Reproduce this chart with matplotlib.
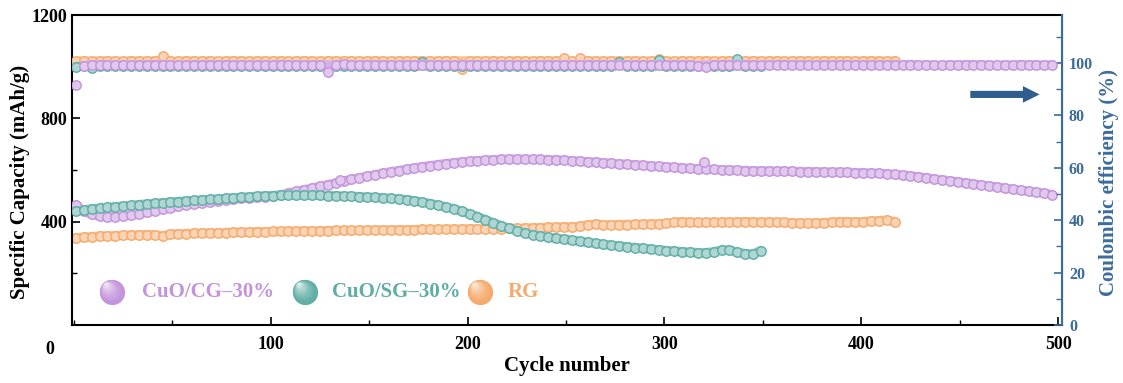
import numpy as np
import matplotlib
matplotlib.use("Agg")
import matplotlib.pyplot as plt
from matplotlib.colors import to_rgb

# =========================
# DATA (one value every 4 cycles)
# =========================
STEP = 4

cap_cg = [
    465, 440, 428, 422, 420, 420, 422, 425, 430, 436,
    442, 448, 454, 460, 465, 470, 474, 478, 481, 484,
    487, 490, 492, 494, 497, 500, 504, 510, 517, 524,
    530, 537, 543, 550, 557, 564, 570, 576, 582, 588,
    593, 598, 603, 608, 613, 617, 621, 625, 628, 631,
    634, 636, 638, 640, 641, 642, 642, 642, 641, 641,
    640, 639, 638, 636, 634, 632, 630, 628, 626, 624,
    622, 620, 618, 616, 614, 612, 610, 608, 606, 605,
    604, 602, 601, 600, 599, 598, 597, 597, 596, 596,
    595, 595, 594, 594, 593, 593, 592, 592, 591, 590,
    589, 588, 587, 585, 583, 580, 577, 574, 570, 566,
    562, 558, 554, 550, 546, 542, 538, 534, 530, 526,
    522, 518, 514, 510, 505,
]
cap_sg = [
    440, 445, 450, 452, 455, 458, 460, 463, 466, 468,
    471, 473, 476, 478, 480, 482, 484, 486, 488, 490,
    492, 494, 496, 498, 500, 501, 502, 503, 503, 503,
    503, 502, 501, 500, 499, 498, 497, 495, 494, 492,
    490, 488, 485, 481, 476, 470, 464, 457, 450, 440,
    430, 420, 408, 396, 385, 374, 365, 357, 350, 345,
    340, 336, 332, 328, 324, 320, 316, 312, 309, 306,
    303, 300, 297, 294, 291, 288, 286, 284, 282, 280,
    280, 283, 290, 290, 282, 276, 275, 288,
]
cap_rg = [
    338, 340, 342, 344, 345, 346, 347, 348, 349, 350,
    350, 345, 352, 353, 354, 355, 356, 357, 357, 358,
    359, 359, 360, 361, 361, 362, 362, 363, 363, 364,
    364, 365, 365, 366, 366, 366, 367, 367, 368, 368,
    368, 369, 369, 369, 370, 370, 370, 371, 371, 371,
    372, 372, 372, 373, 373, 374, 374, 375, 376, 377,
    378, 379, 380, 380, 382, 388, 390, 388, 388, 389,
    389, 390, 390, 391, 392, 393, 398, 400, 398, 397,
    397, 398, 398, 398, 399, 400, 399, 398, 399, 398,
    397, 396, 395, 394, 395, 396, 398, 400, 400, 399,
    400, 402, 404, 406, 400,
]

ce_cg = [
    91.5, 99.0, 99.3, 99.2, 99.4, 99.2, 99.3, 99.1, 99.3, 99.2,
    99.4, 99.2, 99.3, 99.2, 99.1, 99.3, 99.2, 99.4, 99.2, 99.3,
    99.2, 99.3, 99.1, 99.2, 99.3, 99.2, 99.4, 99.2, 99.3, 99.2,
    99.1, 99.3, 96.5, 99.2, 99.6, 99.3, 99.2, 99.4, 99.2, 99.3,
    99.2, 99.1, 99.3, 99.2, 99.4, 99.2, 99.3, 99.2, 99.1, 99.3,
    99.2, 99.4, 99.2, 99.3, 99.2, 99.3, 99.1, 99.2, 99.3, 99.2,
    99.4, 99.2, 99.3, 99.2, 99.1, 99.3, 99.2, 99.4, 99.2, 99.3,
    99.2, 99.3, 99.1, 99.2, 99.3, 99.2, 99.4, 99.2, 99.3, 99.0,
    98.6, 99.3, 99.2, 99.4, 99.2, 99.3, 99.2, 99.1, 99.3, 99.2,
    99.4, 99.2, 99.3, 99.2, 99.1, 99.3, 99.2, 99.4, 99.2, 99.3,
    99.2, 99.3, 99.1, 99.2, 99.3, 99.2, 99.4, 99.2, 99.3, 99.2,
    99.1, 99.3, 99.2, 99.4, 99.2, 99.3, 99.2, 99.1, 99.3, 99.2,
    99.4, 99.2, 99.3, 99.2, 99.3,
]
ce_sg = [
    98.6, 98.8, 98.2, 98.9, 99.0, 98.9, 99.0, 98.8, 99.0, 98.9,
    99.0, 98.9, 99.0, 98.8, 99.0, 98.9, 99.0, 98.9, 99.0, 98.8,
    99.0, 98.9, 99.0, 98.9, 99.0, 98.8, 99.0, 98.9, 99.0, 98.9,
    99.0, 98.8, 99.0, 98.9, 99.0, 98.9, 99.0, 98.8, 99.0, 98.9,
    99.0, 98.9, 99.0, 98.8, 100.3, 98.9, 99.0, 98.9, 99.0, 98.8,
    99.0, 98.9, 99.0, 98.9, 99.0, 98.8, 99.0, 98.9, 99.0, 98.9,
    99.0, 98.8, 99.0, 98.9, 99.0, 98.9, 99.0, 98.8, 99.0, 100.4,
    99.0, 98.9, 99.0, 98.9, 101.2, 98.8, 99.0, 98.9, 99.0, 98.9,
    99.0, 98.8, 99.0, 98.9, 101.5, 98.9, 99.0, 98.9,
]
ce_rg = [
    100.7, 100.8, 100.6, 100.7, 100.8, 100.7, 100.6, 100.8, 100.7, 100.7,
    100.8, 102.6, 100.7, 100.6, 100.8, 100.7, 100.7, 100.8, 100.6, 100.7,
    100.8, 100.7, 100.6, 100.8, 100.7, 100.7, 100.8, 100.6, 100.7, 100.8,
    100.7, 100.6, 100.8, 100.7, 100.7, 100.8, 100.6, 100.7, 100.8, 100.7,
    100.6, 100.8, 100.7, 100.7, 100.8, 100.6, 100.7, 100.8, 100.7, 97.6,
    100.8, 100.7, 100.7, 100.8, 100.6, 100.7, 100.8, 100.7, 100.6, 100.8,
    100.7, 100.7, 101.9, 100.6, 102.0, 100.8, 100.7, 100.6, 100.8, 100.7,
    100.7, 100.8, 100.6, 100.7, 101.4, 100.7, 100.6, 100.8, 100.7, 100.7,
    100.8, 100.6, 100.7, 100.8, 100.7, 100.6, 100.8, 100.7, 100.7, 100.8,
    100.6, 100.7, 100.8, 100.7, 100.6, 100.8, 100.7, 100.7, 100.8, 100.6,
    100.7, 100.8, 100.7, 100.6, 100.8,
]

# odd points sitting above the CuO/CG capacity band
cg_spike_cycles = [135, 320]
cg_spike_cap = [562, 632]

labels = ["CuO/CG\u201330%", "CuO/SG\u201330%", "RG"]
colors = ["#c393db", "#5fada5", "#f6a96b"]

x_ticks = [100, 200, 300, 400, 500]
cap_ticks = [400, 800, 1200]
ce_ticks = [0, 20, 40, 60, 80, 100]

BLUE = "#3b6c9c"
ARROW = "#2f5e8e"


def cycles_for(values):
    return 1 + STEP * np.arange(len(values))


def tint(color, amount):
    c = np.array(to_rgb(color))
    return tuple(c * (1 - amount) + amount)


def ball(ax, x, y, color, size=330):
    # shaded sphere: stack of circles blending to white toward the top-left
    base = np.array(to_rgb(color))
    n = 10
    for i in range(n):
        t = i / (n - 1)
        c = base * (1 - 0.75 * t ** 1.6) + 0.75 * t ** 1.6
        s = size * (1 - t * 0.85) ** 2
        ax.scatter(x - 0.006 * t, y + 0.025 * t, s=s, color=c,
                   transform=ax.transAxes, zorder=10 + i, clip_on=False,
                   linewidths=0)


def series(a, x, y, color, z, band_tol=None, ms=6.8):
    x = np.asarray(x)
    y = np.asarray(y, dtype=float)
    # thick band under the rings so the dense markers read as one trace;
    # for CE, stray points are left off the band and only get a ring
    keep = np.ones(len(y), bool)
    if band_tol is not None:
        keep = np.abs(y - np.median(y)) < band_tol
    if len(y) > 2:
        a.plot(x[keep], y[keep], "-", color=tint(color, 0.3), lw=6.8,
               solid_capstyle="round", zorder=z)
    a.plot(x, y, marker="o", linestyle="none", markersize=ms,
           mfc=tint(color, 0.5), mec=color, mew=1.0, zorder=z)


plt.rcParams["font.family"] = ["Liberation Serif", "DejaVu Serif"]
plt.rcParams["font.weight"] = "bold"
plt.rcParams["axes.labelweight"] = "bold"

fig = plt.figure(figsize=(11.23, 3.83), dpi=100)
ax = fig.add_axes([0.0641, 0.1514, 0.8816, 0.8094])
ax2 = ax.twinx()

# capacity
series(ax, cycles_for(cap_rg), cap_rg, colors[2], 2)
series(ax, cycles_for(cap_cg), cap_cg, colors[0], 3)
series(ax, cg_spike_cycles, cg_spike_cap, colors[0], 3)
series(ax, cycles_for(cap_sg), cap_sg, colors[1], 4)

# coulombic efficiency
series(ax2, cycles_for(ce_rg), ce_rg, colors[2], 2, band_tol=0.6)
series(ax2, cycles_for(ce_sg), ce_sg, colors[1], 3, band_tol=0.6)
series(ax2, cycles_for(ce_cg), ce_cg, colors[0], 4, band_tol=0.6)

ax.set_xlim(-1, 502)
ax.set_ylim(0, 1200)
ax2.set_ylim(0, 118.3)

ax.set_xticks(x_ticks)
ax.set_xticks([0, 50, 150, 250, 350, 450], minor=True)
ax.set_yticks(cap_ticks)
ax.set_yticks([200, 600, 1000], minor=True)
ax2.set_yticks(ce_ticks)
ax2.set_yticks([10, 30, 50, 70, 90, 110], minor=True)

ax.tick_params(axis="both", which="major", direction="in", length=6,
               width=1.2, labelsize=13)
ax.tick_params(axis="both", which="minor", direction="in", length=3.5,
               width=1.0)
ax.tick_params(axis="x", pad=8)
ax2.tick_params(axis="y", which="major", direction="in", length=6,
                width=1.2, labelsize=11.5, colors=BLUE, pad=5)
ax2.tick_params(axis="y", which="minor", direction="in", length=4,
                width=1.0, colors=BLUE)

for sp in ["left", "bottom", "top"]:
    ax.spines[sp].set_linewidth(1.5)
ax2.spines["right"].set_color(BLUE)
ax2.spines["right"].set_linewidth(1.5)
ax2.spines["left"].set_visible(False)
ax2.spines["top"].set_visible(False)
ax2.spines["bottom"].set_visible(False)

# the lone "0" sitting at the corner
ax.text(-0.018, -0.05, "0", transform=ax.transAxes, fontsize=13,
        ha="right", va="top")

ax.set_xlabel("Cycle number", fontsize=15, labelpad=2)
ax.set_ylabel("Specific Capacity (mAh/g)", fontsize=15)
ax.yaxis.set_label_coords(-0.042, 0.46)
ax2.set_ylabel("Coulombic efficiency (%)", fontsize=15, color=BLUE)
ax2.yaxis.set_label_coords(1.037, 0.46)

ax2.annotate("", xy=(492, 88), xytext=(454, 88),
             arrowprops=dict(arrowstyle="simple,head_length=0.75,head_width=0.75,tail_width=0.32",
                             color=ARROW, mutation_scale=16, lw=0))

# legend drawn by hand: shaded balls + coloured text
ball_x = [0.040, 0.235, 0.412]
text_x = [0.071, 0.263, 0.440]
for bx, tx, lab, col in zip(ball_x, text_x, labels, colors):
    ball(ax, bx, 0.106, col)
    ax.text(tx, 0.106, lab, transform=ax.transAxes, color=col,
            fontsize=15, va="center", ha="left")

fig.savefig("out.png", dpi=100)
